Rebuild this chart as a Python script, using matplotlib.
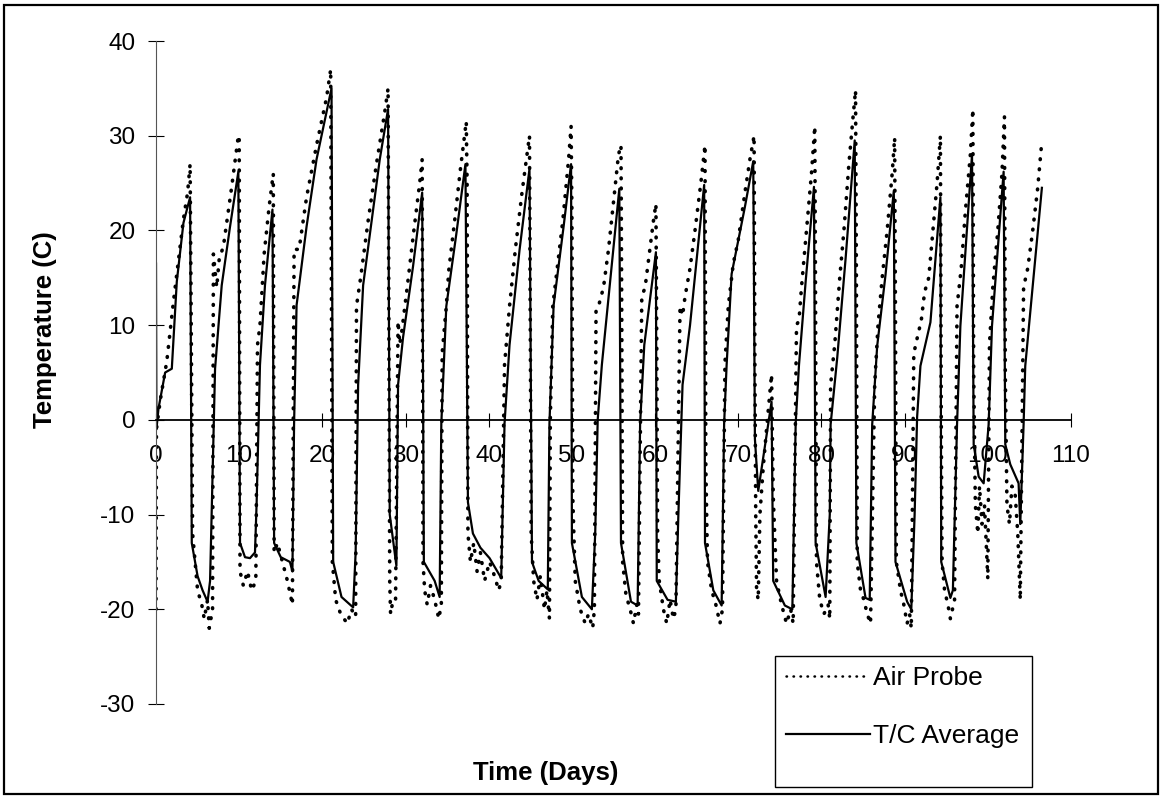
import matplotlib
matplotlib.use('Agg')
import matplotlib.pyplot as plt
from matplotlib.patches import Rectangle

plt.rcParams['font.family'] = ['Liberation Sans', 'DejaVu Sans']
plt.rcParams['axes.unicode_minus'] = False

# T/C Average (solid)
tc_x = [0, 0.05, 0.3, 1.1, 1.9, 2.5, 3.3, 4.1,
        4.3, 5.0, 5.6, 6.2, 6.5, 7.1, 7.9, 8.9, 9.9,
        10.1, 10.7, 11.3, 11.9, 12.1, 12.5, 13.1, 14.0,
        14.2, 15.0, 16.1, 16.4, 16.6, 16.9, 18.1, 19.3, 21.1,
        21.3, 22.3, 23.7, 24.0, 24.3, 24.9, 26.9, 27.9,
        28.1, 28.9, 29.1, 29.7, 30.9, 32.0,
        32.2, 33.5, 34.1, 34.3, 34.9, 36.1, 37.2,
        37.5, 38.1, 39.0, 40.1, 41.5, 41.9, 42.5, 43.7, 44.9,
        45.2, 46.0, 47.1, 47.3, 47.8, 49.0, 49.9,
        50.0, 51.2, 52.4, 52.8, 53.1, 53.6, 54.3, 55.7,
        55.9, 57.1, 57.9, 58.2, 58.7, 60.1,
        60.2, 61.5, 62.5, 62.8, 63.3, 64.2, 65.9,
        66.0, 67.0, 68.0, 68.3, 68.6, 69.2, 70.8, 71.8,
        72.0, 72.4, 74.0,
        74.2, 75.6, 76.5, 76.9, 77.3, 78.1, 79.1,
        79.3, 80.5, 81.0, 81.1, 81.9, 82.9, 84.0,
        84.2, 85.3, 85.8, 86.1, 86.7, 87.7, 88.7,
        88.9, 90.3, 90.8, 91.2, 91.5, 91.9, 93.1, 94.3,
        94.4, 95.5, 95.8, 96.3, 96.7, 98.1,
        98.3, 98.9, 99.5, 100.1, 100.5, 101.9,
        102.1, 102.7, 103.7, 103.9, 104.3, 104.5, 106.5]
tc_y = [16.5, -1, 1.2, 5, 5.4, 14.6, 20.8, 23.5,
        -13, -16.5, -18, -19.2, -17, 5.4, 14.2, 20.4, 26.2,
        -13, -14.5, -14.6, -14, -8.7, 5.8, 14.2, 22.2,
        -13, -14.5, -15, -16, -0.4, 12.1, 20.4, 27.5, 35,
        -15, -18.7, -19.8, -14, 3.7, 14.2, 27.5, 32.8,
        -10, -15.4, 3.7, 8.7, 16.2, 24,
        -15, -17, -18.7, -0.4, 12, 19.6, 27,
        -8.7, -12, -13.5, -14.6, -16.7, -0.4, 7.9, 17.9, 26.5,
        -15, -17, -17.9, -0.4, 12.1, 20.4, 27,
        -13, -18.7, -20, -12, 0, 5.8, 12, 24.4,
        -13, -19.2, -19.6, -0.4, 7.9, 17.7,
        -17, -19, -19.2, -10, 3.7, 10, 24.8,
        -13, -18, -19.6, -0.4, 5.8, 15.4, 22.5, 27.3,
        -2, -7.5, 1.9,
        -17, -19.6, -20, -0.4, 5.8, 14.6, 24.6,
        -13, -18.7, -10, -0.5, 6.6, 17, 29.5,
        -13, -18.8, -19, -0.5, 7.8, 15.3, 24.2,
        -15, -19.2, -20, -10, 0.3, 5.7, 10.3, 23.5,
        -15, -18.8, -18, -0.5, 9.9, 28,
        -2.6, -6, -6.7, -0.5, 9.9, 26.2,
        -2.6, -4.7, -6.7, -11, -0.5, 5.7, 24.5]

# Air Probe (dotted)
air_x = [0, 0.05, 0.5, 1.3, 2.1, 2.5, 3.3, 3.8, 4.1,
         4.3, 4.4, 5.0, 5.5, 5.8, 6.2, 6.4, 6.8, 6.9, 7.3, 7.6, 8.1, 9.1, 9.9,
         10.0, 10.1, 10.5, 11.0, 11.5, 12.0, 12.2, 12.5, 13.0, 13.6, 14.1,
         14.2, 14.6, 15.2, 15.8, 16.4, 16.6, 17.2, 18.1, 19.3, 20.5, 21.0,
         21.2, 21.6, 22.2, 23.0, 23.5, 24.0, 24.1, 24.6, 25.5, 26.5, 27.5, 27.9,
         28.1, 28.2, 28.5, 28.8, 29.1, 29.3, 29.5, 30.2, 31.0, 31.7, 32.0,
         32.1, 32.3, 32.6, 33.0, 33.5, 34.0, 34.3, 34.4, 34.9, 35.2, 35.9, 36.6, 37.3,
         37.4, 37.5, 37.8, 38.2, 38.6, 39.0, 39.5, 40.1, 40.7, 41.2, 41.5, 41.9, 42.5, 43.2, 44.0, 44.6, 44.9,
         45.1, 45.4, 45.8, 46.2, 46.7, 47.0, 47.3, 47.4, 47.7, 48.1, 48.9, 49.6, 49.9,
         50.0, 50.1, 50.4, 51.0, 51.6, 52.0, 52.5, 52.7, 52.9, 53.2, 53.8, 54.4, 55.0, 55.6, 55.9,
         56.0, 56.1, 56.5, 57.0, 57.4, 57.8, 58.0, 58.4, 58.8, 59.3, 59.8, 60.1,
         60.2, 60.3, 60.5, 61.0, 61.4, 61.8, 62.2, 62.5, 63.0, 63.3, 63.6, 64.2, 64.8, 65.5, 66.0,
         66.1, 66.3, 66.8, 67.3, 67.8, 68.1, 68.4, 68.8, 69.4, 70.0, 70.8, 71.4, 71.9,
         72.0, 72.1, 72.2, 72.4, 72.6, 73.0, 73.5, 74.0,
         74.2, 74.6, 75.2, 75.8, 76.3, 76.6, 77.0, 77.3, 77.6, 78.2, 78.8, 79.2,
         79.3, 79.4, 79.8, 80.3, 80.8, 81.0, 81.1, 81.6, 82.2, 82.7, 83.3, 83.8, 84.1,
         84.2, 84.3, 84.7, 85.1, 85.5, 85.9, 86.4, 86.8, 87.3, 87.9, 88.5, 88.8,
         88.9, 89.0, 89.5, 89.9, 90.3, 90.6, 90.8, 91.1, 91.6, 92.0, 92.4, 92.9, 93.4, 93.9, 94.3,
         94.4, 94.5, 94.8, 95.2, 95.5, 96.0, 96.3, 96.8, 97.3, 97.9, 98.2,
         98.3, 98.5, 98.8, 99.0, 99.3, 99.6, 100.0, 100.2, 100.6, 101.2, 101.7, 102.0,
         102.1, 102.3, 102.6, 102.9, 103.3, 103.6, 103.9, 104.3, 104.8, 105.4, 106.0, 106.5]
air_y = [-20, -1, 2, 6.2, 12.5, 15.4, 21.2, 24, 27,
         0, -12, -18, -19.5, -21, -19, -22, -20, 17.5, 14, 17, 18.3, 24.6, 30,
         30, -16, -17.5, -16, -18, -17, 7.9, 10, 17.5, 22.5, 26,
         -14, -13, -15, -17, -19.5, 18, 18, 23.5, 29, 34, 37,
         -15, -19, -20.5, -21.5, -20, -20.8, 12, 15, 21, 27, 32.5, 35,
         -17, -20.5, -19, -19, 10.4, 8, 9, 14, 20, 25, 27.5,
         -15, -18, -19.5, -17.5, -19, -21, -19.5, 7, 12, 15.8, 21, 26.5, 31.5,
         25, -12, -15, -13, -16, -14, -17, -15, -16.5, -18, -17, 5.8, 12, 18, 24, 28, 30,
         -12, -17, -19, -16.5, -20, -18, -21, 0, 12, 15, 21, 27.5, 31,
         22, -8, -17, -20, -21.5, -20.5, -22, -20, 11.5, 12, 14, 18, 23, 28, 29,
         10, -15, -18.5, -20, -21.5, -19.5, -20.5, 13, 14, 17.5, 21, 22.8,
         8, -12, -17, -20, -21.5, -19, -21, -20, 12, 11, 13, 16, 20, 25, 29,
         -5, -15, -18, -19.5, -21.5, -20, 6, 12, 16.5, 19, 24, 27.5, 30,
         5, -10, -18, -19, -10, -5, 0, 4.8,
         -8, -17, -19.5, -21.5, -20, -21.5, 10, 10.5, 14, 20, 26, 31,
         10, -15, -19, -20.5, -19.5, -21, 3.7, 8, 15, 20, 27, 32, 34.8,
         15, -15, -18, -19, -20.5, -21.5, 3.7, 10, 15, 20, 26, 29.8,
         10, -15, -18, -19.5, -21.5, -20.5, -22, 7, 9, 10.5, 13.5, 15, 20, 25, 30,
         0, -15, -18, -19.5, -21, -19, 12, 16, 22, 28, 32.8,
         5, -9, -12, -7, -11, -9, -16.8, 8, 14, 20, 26, 32,
         5, -9, -11, -7, -8, -12, -19, 14, 16, 20, 24.5, 29.5]

W, H = 1163, 798
fig = plt.figure(figsize=(W / 100, H / 100), dpi=100)
ax = fig.add_axes([156 / W, 1 - 704 / H, (1071 - 156) / W, (704 - 41) / H])

ax.plot(air_x, air_y, color='black', lw=2.6, linestyle=(0, (0.2, 2.6)),
        dash_capstyle='round', label='Air Probe')
ax.plot(tc_x, tc_y, color='black', lw=1.6, label='T/C Average')

ax.set_xlim(0, 110)
ax.set_ylim(-30, 40)
ax.set_xticks(range(0, 111, 10))
ax.set_yticks(range(-30, 41, 10))

ax.spines['top'].set_visible(False)
ax.spines['right'].set_visible(False)
ax.spines['bottom'].set_position(('data', 0))
ax.spines['bottom'].set_linewidth(1.3)
ax.spines['left'].set_color('#555555')
ax.spines['left'].set_linewidth(0.8)

ax.tick_params(axis='x', direction='inout', length=10, width=0.8, pad=13, labelsize=17.5)
ax.tick_params(axis='y', direction='inout', length=11.5, width=0.8, pad=9, labelsize=17.5)

fig.text(546 / W, 1 - 773 / H, 'Time (Days)', ha='center', va='center',
         fontsize=18.5, fontweight='bold')
fig.text(45 / W, 1 - 330 / H, 'Temperature (C)', ha='center', va='center',
         rotation=90, fontsize=18.5, fontweight='bold')

handles, labels = ax.get_legend_handles_labels()
leg = fig.legend(handles, labels, loc='upper left', bbox_to_anchor=(778 / W, 1 - 658 / H),
                 frameon=False, fontsize=19, handlelength=3.2, handletextpad=0.1,
                 labelspacing=1.3, borderpad=0.3, borderaxespad=0)
leg.get_lines()[0].set_linewidth(1.8)
fig.patches.append(Rectangle((775 / W, 1 - 787 / H), (1032 - 775) / W, (787 - 656) / H,
                             transform=fig.transFigure, fill=False, edgecolor='black', lw=1))
fig.patches.append(Rectangle((4 / W, 1 - 794 / H), (1158 - 4) / W, (794 - 5) / H,
                             transform=fig.transFigure, fill=False, edgecolor='black', lw=1.6))

fig.savefig('out.png', dpi=100)
